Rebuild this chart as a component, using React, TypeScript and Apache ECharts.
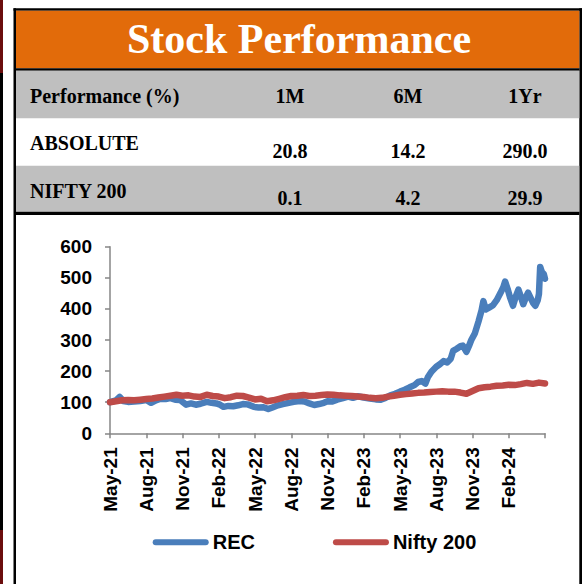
import React, { useEffect, useRef } from "react";
import * as echarts from "echarts";

const tickLabels = ["May-21", "Aug-21", "Nov-21", "Feb-22", "May-22", "Aug-22", "Nov-22", "Feb-23", "May-23", "Aug-23", "Nov-23", "Feb-24", ""];
const seriesNames = ["REC", "Nifty 200"];
const tableTitle = "Stock Performance";
const headerRow = ["Performance (%)", "1M", "6M", "1Yr"];
const absoluteRow = ["ABSOLUTE", "20.8", "14.2", "290.0"];
const niftyRow = ["NIFTY 200", "0.1", "4.2", "29.9"];

// [months since May-21, indexed value]
const recSeries: [number, number][] = [
  [0, 100], [0.5, 106], [0.8, 117], [1.1, 104], [1.5, 101], [2, 102], [2.5, 104], [3, 107], [3.4, 98], [3.8, 106],
  [4.2, 111], [4.6, 110], [5, 113], [5.4, 108], [5.8, 107], [6.3, 92], [6.7, 96], [7.1, 92], [7.5, 95], [8, 101],
  [8.4, 98], [8.8, 96], [9.1, 92], [9.4, 85], [9.8, 88], [10.2, 87], [10.6, 90], [11, 94], [11.4, 93], [11.9, 85],
  [12.3, 83], [12.7, 84], [13.1, 78], [13.5, 84], [13.9, 90], [14.3, 94], [14.8, 98], [15.2, 101], [15.7, 104], [16.1, 102],
  [16.5, 96], [16.9, 91], [17.3, 94], [17.7, 98], [18, 103], [18.4, 102], [18.8, 108], [19.2, 112], [19.7, 118], [20.1, 114],
  [20.5, 119], [21, 115], [21.5, 112], [22, 109], [22.4, 108], [22.8, 114], [23.2, 122], [23.6, 127], [24, 134], [24.4, 140],
  [24.8, 148], [25.2, 155], [25.5, 165], [25.8, 168], [26.1, 160], [26.3, 180], [26.6, 198], [27, 214], [27.3, 222], [27.6, 232],
  [27.9, 228], [28.2, 240], [28.4, 265], [28.7, 272], [29, 280], [29.2, 282], [29.5, 262], [29.7, 280], [29.9, 300], [30.2, 322],
  [30.5, 360], [30.75, 395], [30.9, 425], [31.1, 398], [31.4, 405], [31.7, 412], [32, 428], [32.3, 450], [32.55, 470], [32.7, 488],
  [32.9, 465], [33.1, 438], [33.35, 410], [33.6, 442], [33.8, 462], [34, 440], [34.2, 415], [34.45, 440], [34.6, 452], [34.85, 432],
  [35, 420], [35.2, 410], [35.4, 428], [35.5, 448], [35.6, 535], [35.75, 518], [35.9, 512], [36, 497],
];

const niftySeries: [number, number][] = [
  [0, 100], [0.5, 103], [1, 106], [1.5, 107], [2, 106], [2.5, 108], [3, 110], [3.5, 112], [4, 115], [4.5, 118],
  [5, 121], [5.5, 124], [6, 121], [6.5, 122], [7, 118], [7.5, 117], [8, 124], [8.5, 120], [9, 118], [9.5, 113],
  [10, 116], [10.5, 121], [11, 120], [11.5, 115], [12, 109], [12.5, 111], [13, 103], [13.5, 106], [14, 111], [14.5, 116],
  [15, 120], [15.5, 121], [16, 123], [16.5, 120], [17, 121], [17.5, 123], [18, 125], [18.5, 124], [19, 122], [19.5, 121],
  [20, 120], [20.5, 118], [21, 117], [21.5, 114], [22, 113], [22.5, 114], [23, 118], [23.5, 121], [24, 124], [24.5, 126],
  [25, 128], [25.5, 130], [26, 131], [26.5, 133], [27, 134], [27.5, 135], [28, 134], [28.5, 134], [29, 131], [29.5, 127],
  [30, 136], [30.5, 145], [31, 148], [31.5, 150], [32, 153], [32.5, 154], [33, 156], [33.5, 155], [34, 158], [34.5, 162],
  [35, 159], [35.5, 163], [36, 160],
];

const SERIF = '"Liberation Serif", "Times New Roman", serif';
const SANS = '"Liberation Sans", Arial, sans-serif';

function rect(x: number, y: number, w: number, h: number, fill: string) {
  return { type: "rect", silent: true, shape: { x, y, width: w, height: h }, style: { fill } };
}

function txt(text: string, x: number, y: number, align: string, size: number, fill: string) {
  return {
    type: "text",
    silent: true,
    x,
    y,
    style: {
      text,
      fill,
      fontSize: size,
      fontWeight: "bold",
      fontFamily: SERIF,
      align,
      verticalAlign: "middle",
      textAlign: align,
      textVerticalAlign: "middle",
    },
  };
}

export default function App() {
  const ref = useRef<HTMLDivElement>(null);
  useEffect(() => {
    if (!ref.current) return;
    const chart = echarts.init(ref.current, null, { renderer: "svg" });
    const colX = [290, 408, 525];
    const graphic: any[] = [
      rect(0, 0, 3, 73, "#6b0d0d"),
      rect(0, 73, 3, 457, "#000000"),
      rect(0, 530, 3, 54, "#6b0d0d"),
      rect(13.5, 8.3, 568.5, 2.5, "#000000"),
      rect(13.5, 8.3, 2.5, 576, "#000000"),
      rect(579.3, 8.3, 2.7, 576, "#000000"),
      rect(16, 10.8, 563.3, 57.5, "#E26B0A"),
      rect(16, 68.3, 563.3, 2.4, "#000000"),
      rect(16, 70.7, 563.3, 47.6, "#BFBFBF"),
      rect(16, 165.7, 563.3, 46, "#BFBFBF"),
      rect(16, 211.7, 563.3, 3.3, "#000000"),
      txt(tableTitle, 299, 39, "center", 42, "#ffffff"),
      txt(headerRow[0], 30, 96, "left", 20, "#000000"),
      txt(absoluteRow[0], 30, 143.2, "left", 20, "#000000"),
      txt(niftyRow[0], 30, 191, "left", 20, "#000000"),
    ];
    for (let i = 0; i < 3; i++) {
      graphic.push(txt(headerRow[i + 1], colX[i], 96, "center", 20, "#000000"));
      graphic.push(txt(absoluteRow[i + 1], colX[i], 150.5, "center", 20, "#000000"));
      graphic.push(txt(niftyRow[i + 1], colX[i], 198.2, "center", 20, "#000000"));
    }
    const axisColor = "#868686";
    chart.setOption({
      animation: false,
      backgroundColor: "#ffffff",
      graphic,
      grid: { left: 110, top: 246.7, right: 42, bottom: 150.7, containLabel: false },
      legend: {
        data: seriesNames,
        left: 152.7,
        top: 532.3,
        padding: 0,
        itemWidth: 56,
        itemHeight: 6,
        itemGap: 78,
        icon: "path://M3,0 L53,0 A3,3 0 0 1 53,6 L3,6 A3,3 0 0 1 3,0 Z",
        textStyle: { fontSize: 20, fontWeight: "bold", fontFamily: SANS, color: "#000000", lineHeight: 20, padding: [0, 0, 0, -1] },
      },
      xAxis: {
        type: "value",
        min: 0,
        max: 36,
        interval: 3,
        splitLine: { show: false },
        axisLine: { show: true, lineStyle: { color: axisColor, width: 1.5 } },
        axisTick: { show: true, length: 5, lineStyle: { color: axisColor, width: 1.5 } },
        axisLabel: {
          rotate: 90,
          margin: 14,
          fontSize: 19,
          fontWeight: "bold",
          fontFamily: SANS,
          color: "#000000",
          showMaxLabel: true,
          formatter: (v: number) => tickLabels[Math.round(v / 3)] ?? "",
        },
      },
      yAxis: {
        type: "value",
        min: 0,
        max: 600,
        interval: 100,
        splitLine: { show: false },
        axisLine: { show: true, lineStyle: { color: axisColor, width: 1.5 } },
        axisTick: { show: true, length: 5, lineStyle: { color: axisColor, width: 1.5 } },
        axisLabel: { margin: 18, fontSize: 19, fontWeight: "bold", fontFamily: SANS, color: "#000000" },
      },
      series: [
        {
          name: seriesNames[0],
          type: "line",
          data: recSeries,
          showSymbol: false,
          itemStyle: { color: "#4A7EBB" },
          lineStyle: { color: "#4A7EBB", width: 6.5, cap: "round", join: "round" },
        },
        {
          name: seriesNames[1],
          type: "line",
          data: niftySeries,
          showSymbol: false,
          itemStyle: { color: "#BE4B48" },
          lineStyle: { color: "#BE4B48", width: 6.5, cap: "round", join: "round" },
        },
      ],
    });
    return () => chart.dispose();
  }, []);
  return <div ref={ref} style={{ position: "fixed", left: 0, top: 0, width: 587, height: 584 }} />;
}
